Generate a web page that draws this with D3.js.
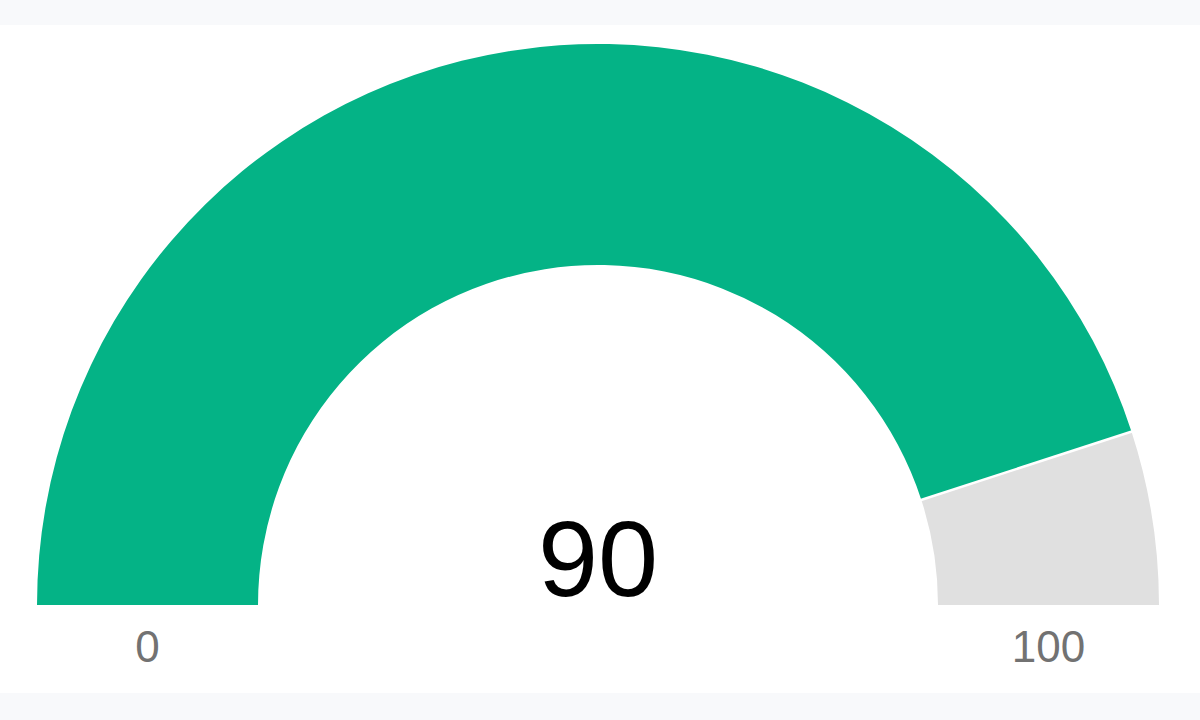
<!DOCTYPE html>
<html>
<head>
<meta charset="utf-8">
<script src="https://cdn.jsdelivr.net/npm/d3@7"></script>
<style>
	html, body { margin: 0; padding: 0; background: #f8f9fb; }
	#chart { width: 1200px; height: 720px; }
</style>
</head>
<body>
<div id="chart"></div>
<script>
// gauge data
const gaugeMin = 0;
const gaugeMax = 100;
const gaugeValue = 90;
const tickLabels = ['0', '100'];
const segmentNames = ['value', 'rest'];

const width = 1200, height = 720;
const cx = 598, cy = 605;
const outerR = 561, innerR = 340;

const svg = d3.select('#chart').append('svg')
	.attr('width', width)
	.attr('height', height);

// white panel
svg.append('rect')
	.attr('x', 0)
	.attr('y', 25)
	.attr('width', width)
	.attr('height', 668)
	.attr('fill', '#fff');

const angle = d3.scaleLinear()
	.domain([gaugeMin, gaugeMax])
	.range([-Math.PI / 2, Math.PI / 2]);

const arc = d3.arc()
	.innerRadius(innerR)
	.outerRadius(outerR);

const segments = [
	{ name: segmentNames[0], from: gaugeMin, to: gaugeValue, color: '#04b386' },
	{ name: segmentNames[1], from: gaugeValue, to: gaugeMax, color: '#e0e0e0' }
];

const g = svg.append('g')
	.attr('transform', 'translate(' + cx + ',' + cy + ')');

g.selectAll('.seg')
	.data(segments)
	.enter()
	.append('path')
	.attr('class', 'seg')
	.attr('fill', d => d.color)
	.attr('d', d => arc({ startAngle: angle(d.from), endAngle: angle(d.to) }));

// white divider between value and rest
const a = angle(gaugeValue);
g.append('line')
	.attr('x1', Math.sin(a) * (innerR - 2))
	.attr('y1', -Math.cos(a) * (innerR - 2))
	.attr('x2', Math.sin(a) * (outerR + 2))
	.attr('y2', -Math.cos(a) * (outerR + 2))
	.attr('stroke', '#fff')
	.attr('stroke-width', 2.5);

// min / max labels centered under the band
const midR = (innerR + outerR) / 2;
g.selectAll('.tick')
	.data([gaugeMin, gaugeMax])
	.enter()
	.append('text')
	.attr('class', 'tick')
	.attr('x', d => Math.sin(angle(d)) * midR)
	.attr('y', 57)
	.attr('text-anchor', 'middle')
	.attr('font-family', 'Liberation Sans, Arial, sans-serif')
	.attr('font-size', 44)
	.attr('fill', '#727272')
	.text((d, i) => tickLabels[i]);

g.append('text')
	.attr('x', 0)
	.attr('y', -9)
	.attr('text-anchor', 'middle')
	.attr('font-family', 'Liberation Sans, Arial, sans-serif')
	.attr('font-size', 108)
	.attr('fill', '#000')
	.text(gaugeValue);
</script>
</body>
</html>
